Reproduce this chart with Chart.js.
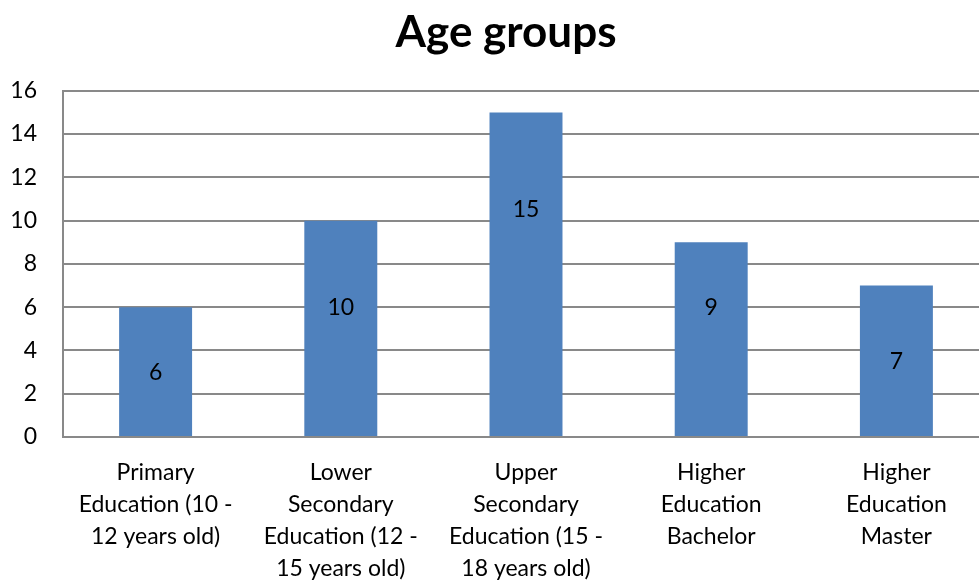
<!DOCTYPE html>
<html>
<head>
<meta charset="utf-8">
<script src="https://cdn.jsdelivr.net/npm/chart.js@4"></script>
<style>
  html, body { margin: 0; padding: 0; overflow: hidden; background: #fff; }
  #wrap { width: 1012px; height: 580px; }
</style>
</head>
<body>
<div id="wrap"><canvas id="grafica"></canvas></div>
<script>
const categorias = [
  ["Primary", "Education (10 -", "12 years old)"],
  ["Lower", "Secondary", "Education (12 -", "15 years old)"],
  ["Upper", "Secondary", "Education (15 -", "18 years old)"],
  ["Higher", "Education", "Bachelor"],
  ["Higher", "Education", "Master"]
];
const valores = [6, 10, 15, 9, 7];
// altura (en unidades del eje) donde va cada etiqueta de la barra
const posEtiquetas = [3, 6, 10.5, 6, 3.5];
const yMin = 0, yMax = 16, yPaso = 2;

const fuente = "Lato, 'Open Sans', sans-serif";
const gris = "#898989";

const etiquetasBarras = {
  id: "etiquetasBarras",
  afterDatasetsDraw(chart) {
    const ctx = chart.ctx;
    const meta = chart.getDatasetMeta(0);
    const escalaY = chart.scales.y;
    ctx.save();
    ctx.font = "23px " + fuente;
    ctx.fillStyle = "#000";
    ctx.textAlign = "center";
    ctx.textBaseline = "middle";
    meta.data.forEach((bar, i) => {
      ctx.fillText(String(valores[i]), bar.x, escalaY.getPixelForValue(posEtiquetas[i]));
    });
    ctx.restore();
  }
};

new Chart(document.getElementById("grafica"), {
  type: "bar",
  data: {
    labels: categorias,
    datasets: [{
      data: valores,
      backgroundColor: "#4F81BD",
      borderWidth: 0,
      categoryPercentage: 1,
      barPercentage: 0.394
    }]
  },
  options: {
    responsive: true,
    maintainAspectRatio: false,
    animation: false,
    plugins: {
      legend: { display: false },
      tooltip: { enabled: false },
      title: {
        display: true,
        text: "Age groups",
        color: "#000",
        font: { family: fuente, size: 44, weight: "bold", lineHeight: 1.2 },
        padding: { top: 6, bottom: 32 }
      }
    },
    scales: {
      x: {
        grid: { display: false, drawTicks: false },
        border: { display: true, color: gris, width: 2 },
        ticks: {
          color: "#000",
          font: { family: fuente, size: 23, lineHeight: 1.39 },
          padding: 20,
          maxRotation: 0,
          autoSkip: false
        },
        afterFit(scale) { scale.height = 143; }
      },
      y: {
        min: yMin,
        max: yMax,
        grid: { color: gris, lineWidth: 2, drawTicks: false },
        border: { display: true, color: gris, width: 2 },
        ticks: {
          stepSize: yPaso,
          color: "#000",
          font: { family: fuente, size: 23 },
          padding: 26
        },
        afterFit(scale) { scale.width = 63; }
      },
      // eje vacío a la derecha: el área del gráfico sigue más allá del borde visible
      yDer: {
        position: "right",
        display: true,
        grid: { display: false, drawTicks: false },
        border: { display: false },
        ticks: { display: false },
        afterFit(scale) { scale.width = 23; }
      }
    }
  },
  plugins: [etiquetasBarras]
});
</script>
</body>
</html>
